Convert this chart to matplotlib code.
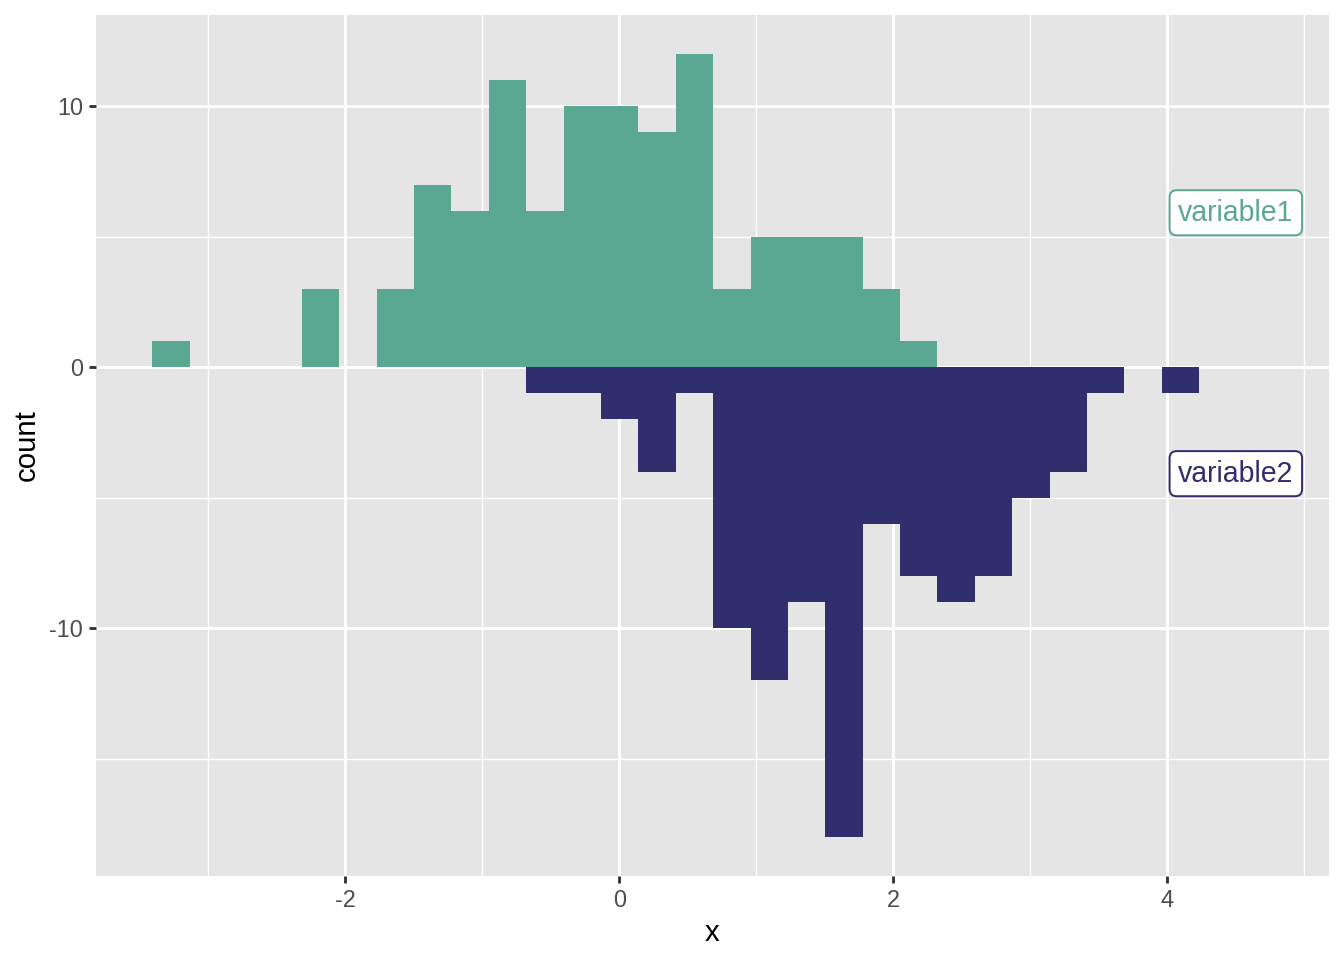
import numpy as np
import matplotlib
matplotlib.use("Agg")
import matplotlib.pyplot as plt

plt.rcParams['font.family'] = ['Liberation Sans', 'DejaVu Sans']

# histogram bins
bin_start = -3.409
bin_width = 0.2729
counts1 = [1, 0, 0, 0, 3, 0, 3, 7, 6, 11, 6, 10, 10, 9, 12, 3, 5, 5, 5, 3, 1,
           0, 0, 0, 0, 0, 0, 0]
counts2 = [0, 0, 0, 0, 0, 0, 0, 0, 0, 0, 1, 1, 2, 4, 1, 10, 12, 9, 18, 6, 8,
           9, 8, 5, 4, 1, 0, 1]

labels = ["variable1", "variable2"]
label_x = [4.5, 4.5]
label_y = [6, -4]

green = "#5aa891"
navy = "#312e6e"

edges = bin_start + bin_width*np.arange(len(counts1))
c1 = np.array(counts1)
c2 = -np.array(counts2)

fig = plt.figure(figsize=(7, 5), dpi=192)
ax = fig.add_axes([96/1344, 84/960, (1329-96)/1344, (876-15)/960])
ax.set_facecolor("#e5e5e5")

ax.set_xlim(-3.82, 5.18)
ax.set_ylim(-19.5, 13.5)

for xm in [-3, -1, 1, 3, 5]:
    ax.axvline(xm, color="white", lw=0.53, zorder=0)
for ym in [-15, -5, 5]:
    ax.axhline(ym, color="white", lw=0.53, zorder=0)
for xm in [-2, 0, 2, 4]:
    ax.axvline(xm, color="white", lw=1.07, zorder=0)
for ym in [-10, 0, 10]:
    ax.axhline(ym, color="white", lw=1.07, zorder=0)

ax.bar(edges, c1, width=bin_width, align='edge', color=green, lw=0, zorder=2)
ax.bar(edges, c2, width=bin_width, align='edge', color=navy, lw=0, zorder=2)

cols = [green, navy]
for i in range(2):
    ax.text(label_x[i], label_y[i] - 0.08, labels[i], color=cols[i], fontsize=10.7,
            ha='center', va='center', zorder=5,
            bbox=dict(boxstyle="round,pad=0.3,rounding_size=0.25", fc="white",
                      ec=cols[i], lw=0.75))

ax.set_xticks([-2, 0, 2, 4])
ax.set_yticks([-10, 0, 10])
ax.set_xticklabels(["-2", "0", "2", "4"])
ax.set_yticklabels(["-10", "0", "10"])
ax.tick_params(length=2.75, width=1.07, color="#333333", labelcolor="#4d4d4d",
               labelsize=8.8, pad=2.2)
for s in ax.spines.values():
    s.set_visible(False)

ax.set_xlabel("x", fontsize=11, labelpad=2.5)
ax.set_ylabel("count", fontsize=11, labelpad=3)

fig.savefig("out.png", dpi=192)
